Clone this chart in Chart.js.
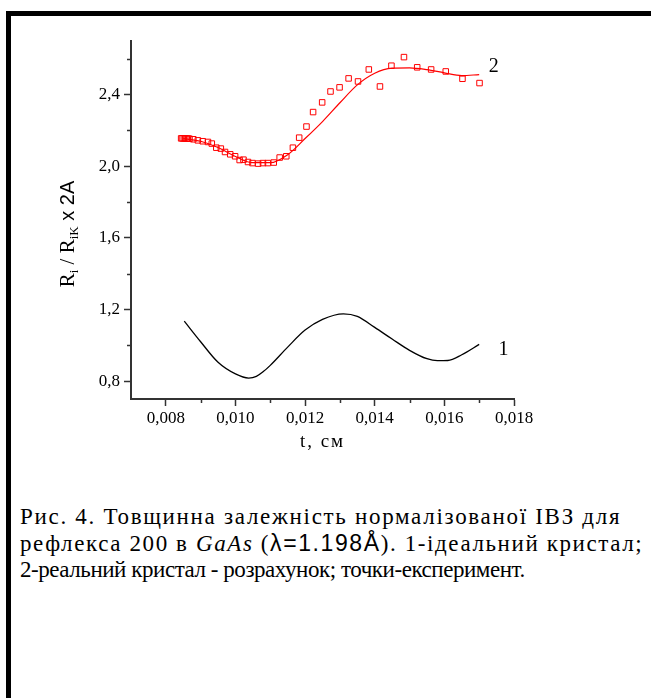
<!DOCTYPE html>
<html>
<head>
<meta charset="utf-8">
<script src="https://cdn.jsdelivr.net/npm/chart.js@4.4.0/dist/chart.umd.min.js"></script>
<style>
	body { margin: 0; background: #fff; width: 651px; height: 698px; position: relative; overflow: hidden; }
	#barL { position: absolute; left: 6px; top: 11px; width: 5px; height: 687px; background: #000; }
	#barT { position: absolute; left: 6px; top: 11px; width: 645px; height: 5px; background: #000; }
	#chart { position: absolute; left: 0; top: 0; }
	#caption { position: absolute; left: 20px; top: 504px; font-family: 'Liberation Serif', serif; font-size: 23px; line-height: 26px; color: #000; white-space: nowrap; }
	#caption .l1 { letter-spacing: 1.7px; }
	#caption .l2 { letter-spacing: 1.6px; }
	#caption .l3 { letter-spacing: -0.45px; }
	.sym { font-family: 'Liberation Sans', sans-serif; }
</style>
</head>
<body>
<div id="barL"></div>
<div id="barT"></div>
<canvas id="chart" width="651" height="460"></canvas>
<div id="caption"><div class="l1">Рис. 4. Товщинна залежність нормалізованої ІВЗ для</div><div class="l2">рефлекса 200 в <i>GaAs</i> (<span class="sym">λ=1.198Å</span>). 1-ідеальний кристал;</div><div class="l3">2-реальний кристал - розрахунок; точки-експеримент.</div></div>
<script>
	// крива 1 - ідеальний кристал
	const t1 = [0.00853, 0.0090, 0.0095, 0.0100, 0.01038, 0.0106, 0.0108, 0.0110, 0.0115, 0.0120, 0.0125, 0.0131, 0.0135, 0.0140, 0.0145, 0.0150, 0.0155, 0.0158, 0.0161, 0.0165, 0.0170];
	const r1 = [1.135, 1.02, 0.905, 0.84, 0.817, 0.826, 0.853, 0.888, 0.99, 1.085, 1.145, 1.176, 1.162, 1.10, 1.035, 0.972, 0.925, 0.914, 0.915, 0.947, 1.005];

	// крива 2 - реальний кристал, розрахунок
	const t2 = [0.0085, 0.0090, 0.0095, 0.0100, 0.0105, 0.0110, 0.0115, 0.0120, 0.0125, 0.0130, 0.0135, 0.0140, 0.0145, 0.0150, 0.0155, 0.0160, 0.0165, 0.0170];
	const r2 = [2.155, 2.14, 2.105, 2.055, 2.02, 2.02, 2.065, 2.155, 2.25, 2.355, 2.455, 2.52, 2.548, 2.55, 2.54, 2.522, 2.507, 2.512];

	// точки - експеримент
	const tExp = [0.00844, 0.00848, 0.00852, 0.00856, 0.0086, 0.00864, 0.00868, 0.00879, 0.00892, 0.00906, 0.00921, 0.00932, 0.00945, 0.00958, 0.0097, 0.00985, 0.00999, 0.01012, 0.01023, 0.01036, 0.01049, 0.01065, 0.01079, 0.01093, 0.0111, 0.01127, 0.01146, 0.01165, 0.01183, 0.01204, 0.01223, 0.01249, 0.01273, 0.01299, 0.01325, 0.01352, 0.01383, 0.01415, 0.01448, 0.01484, 0.01522, 0.01562, 0.01604, 0.01652, 0.01701];
	const rExp = [2.156, 2.156, 2.156, 2.156, 2.155, 2.155, 2.154, 2.151, 2.145, 2.14, 2.136, 2.127, 2.104, 2.099, 2.08, 2.067, 2.056, 2.035, 2.037, 2.024, 2.018, 2.015, 2.018, 2.018, 2.021, 2.049, 2.056, 2.104, 2.16, 2.222, 2.303, 2.357, 2.418, 2.441, 2.491, 2.474, 2.541, 2.446, 2.562, 2.61, 2.553, 2.541, 2.53, 2.489, 2.465];

	const xTicks = [0.008, 0.009, 0.010, 0.011, 0.012, 0.013, 0.014, 0.015, 0.016, 0.017, 0.018];
	const yTicks = [0.8, 1.0, 1.2, 1.4, 1.6, 1.8, 2.0, 2.2, 2.4, 2.6];

	const isMajorX = v => Math.round(v * 1000) % 2 === 0;
	const isMajorY = v => Math.round(v * 10) % 4 === 0;
	const pts = (xs, ys) => xs.map((x, i) => ({ x: x, y: ys[i] }));

	const serif = '"Liberation Serif", "Times New Roman", serif';
	const sans = '"Liberation Sans", Arial, sans-serif';

	// дрібні поділки, номери кривих, підписи осей
	const extras = {
		id: 'extras',
		afterDraw(chart) {
			const ctx = chart.ctx, sx = chart.scales.x, sy = chart.scales.y;
			const area = chart.chartArea;
			ctx.save();
			ctx.strokeStyle = '#333';
			ctx.lineWidth = 1.5;
			xTicks.forEach(v => {
				if (isMajorX(v)) return;
				const px = Math.round(sx.getPixelForValue(v)) + 0.5;
				ctx.beginPath(); ctx.moveTo(px, area.bottom); ctx.lineTo(px, area.bottom + 4); ctx.stroke();
			});
			yTicks.forEach(v => {
				if (isMajorY(v)) return;
				const py = Math.round(sy.getPixelForValue(v)) + 0.5;
				ctx.beginPath(); ctx.moveTo(area.left, py); ctx.lineTo(area.left - 4, py); ctx.stroke();
			});

			ctx.fillStyle = '#000';
			ctx.font = '20px ' + serif;
			ctx.textAlign = 'center';
			ctx.textBaseline = 'middle';
			ctx.fillText('2', sx.getPixelForValue(0.01742), sy.getPixelForValue(2.558));
			ctx.fillText('1', sx.getPixelForValue(0.0177), sy.getPixelForValue(0.977));

			// підпис осі X
			ctx.font = '19px ' + serif;
			ctx.letterSpacing = '2px';
			ctx.fillText('t, см', (area.left + area.right) / 2, area.bottom + 43);
			ctx.letterSpacing = '0px';

			// R_i / R_iK x 2A
			const parts = [
				['R', '21px ' + serif, 0],
				['i', '13px ' + serif, 4],
				[' / R', '21px ' + serif, 0],
				['iK', '13px ' + serif, 4],
				[' x 2A', '20px ' + sans, 0]
			];
			let total = 0;
			parts.forEach(p => { ctx.font = p[1]; total += ctx.measureText(p[0]).width; });
			ctx.translate(74, (area.top + area.bottom) / 2 + 14);
			ctx.rotate(-Math.PI / 2);
			ctx.textAlign = 'left';
			ctx.textBaseline = 'alphabetic';
			let u = -total / 2;
			parts.forEach(p => {
				ctx.font = p[1];
				ctx.fillText(p[0], u, p[2]);
				u += ctx.measureText(p[0]).width;
			});
			ctx.restore();
		}
	};

	new Chart(document.getElementById('chart'), {
		type: 'scatter',
		data: {
			datasets: [
				{
					label: '1',
					data: pts(t1, r1),
					showLine: true,
					borderColor: '#000',
					borderWidth: 1.3,
					pointRadius: 0,
					cubicInterpolationMode: 'monotone'
				},
				{
					label: '2',
					data: pts(t2, r2),
					showLine: true,
					borderColor: '#ff0000',
					borderWidth: 1.2,
					pointRadius: 0,
					cubicInterpolationMode: 'monotone'
				},
				{
					label: 'експеримент',
					data: pts(tExp, rExp),
					showLine: false,
					pointStyle: 'rect',
					pointRadius: 3.9,
					pointBorderWidth: 1,
					pointBorderColor: '#ff0000',
					pointBackgroundColor: 'rgba(0,0,0,0)'
				}
			]
		},
		options: {
			responsive: false,
			animation: false,
			devicePixelRatio: 1,
			layout: { padding: { top: 41, right: 137, left: 0, bottom: 0 } },
			plugins: { legend: { display: false }, tooltip: { enabled: false } },
			scales: {
				x: {
					type: 'linear',
					min: 0.007,
					max: 0.018,
					afterBuildTicks: s => { s.ticks = xTicks.map(v => ({ value: v })); },
					afterFit: s => { s.height = 61; },
					ticks: {
						autoSkip: false, maxRotation: 0, minRotation: 0, padding: 2, color: '#000',
						font: { family: 'Liberation Serif', size: 17 },
						callback: v => isMajorX(v) ? v.toFixed(3).replace('.', ',') : ''
					},
					grid: {
						drawOnChartArea: false, tickLength: 7, tickWidth: 1.5,
						tickColor: c => (c.tick && isMajorX(c.tick.value)) ? '#333' : 'rgba(0,0,0,0)'
					},
					border: { color: '#333', width: 2 }
				},
				y: {
					type: 'linear',
					min: 0.7,
					max: 2.7,
					afterBuildTicks: s => { s.ticks = yTicks.map(v => ({ value: v })); },
					afterFit: s => { s.width = 131; },
					ticks: {
						padding: 4, color: '#000',
						font: { family: 'Liberation Serif', size: 17 },
						callback: v => isMajorY(v) ? v.toFixed(1).replace('.', ',') : ''
					},
					grid: {
						drawOnChartArea: false, tickLength: 7, tickWidth: 1.5,
						tickColor: c => (c.tick && isMajorY(c.tick.value)) ? '#333' : 'rgba(0,0,0,0)'
					},
					border: { color: '#333', width: 2 }
				}
			}
		},
		plugins: [extras]
	});
</script>
</body>
</html>
